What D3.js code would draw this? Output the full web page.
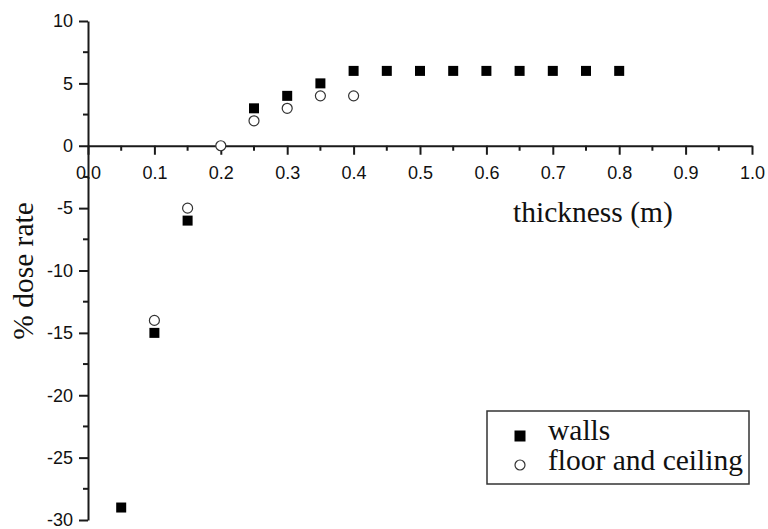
<!DOCTYPE html>
<html>
<head>
<meta charset="utf-8">
<script src="https://cdn.jsdelivr.net/npm/d3@7"></script>
<style>
  html, body { margin: 0; padding: 0; background: #fff; }
  svg { display: block; }
</style>
</head>
<body>
<svg id="chart" width="768" height="529"></svg>
<script>
// Thickness (m) and % dose rate change for each shielding surface
const wallsThickness = [0.05, 0.10, 0.15, 0.25, 0.30, 0.35, 0.40, 0.45, 0.50, 0.55, 0.60, 0.65, 0.70, 0.75, 0.80];
const wallsDose      = [-29, -15, -6, 3, 4, 5, 6, 6, 6, 6, 6, 6, 6, 6, 6];
const floorThickness = [0.10, 0.15, 0.20, 0.25, 0.30, 0.35, 0.40];
const floorDose      = [-14, -5, 0, 2, 3, 4, 4];

const xTicks = [0.0, 0.1, 0.2, 0.3, 0.4, 0.5, 0.6, 0.7, 0.8, 0.9, 1.0];
const xMinorTicks = [0.05, 0.15, 0.25, 0.35, 0.45, 0.55, 0.65, 0.75, 0.85, 0.95];
const yTicks = [-30, -25, -20, -15, -10, -5, 0, 5, 10];
const yMinorTicks = [-27.5, -22.5, -17.5, -12.5, -7.5, -2.5, 2.5, 7.5];

const seriesNames = ["walls", "floor and ceiling"];

const svg = d3.select("#chart");
const x = d3.scaleLinear().domain([0, 1]).range([88, 752]);
const y = d3.scaleLinear().domain([-30, 10]).range([520, 21]);

const axisColor = "#1a1a1a";
const sansFont = "Arial, 'Liberation Sans', sans-serif";
const serifFont = "'Times New Roman', 'Liberation Serif', serif";

// Horizontal axis running through y = 0
const gx = svg.append("g").attr("transform", `translate(0,${y(0)})`);
gx.call(d3.axisBottom(x).tickValues(xTicks).tickSize(9).tickSizeOuter(0)
  .tickFormat(d3.format(".1f")).tickPadding(11));
gx.selectAll(".tick line").attr("stroke", axisColor).attr("stroke-width", 2);
gx.select(".domain").attr("stroke", axisColor).attr("stroke-width", 2);
gx.selectAll(".tick text").attr("font-family", sansFont).attr("font-size", 18).attr("fill", "#111");
gx.selectAll(".minor").data(xMinorTicks).enter().append("line")
  .attr("class", "minor")
  .attr("x1", d => x(d)).attr("x2", d => x(d))
  .attr("y1", 0).attr("y2", 5)
  .attr("stroke", axisColor).attr("stroke-width", 2);

// Vertical axis at x = 0 (plain hyphen for negative labels)
const gy = svg.append("g").attr("transform", `translate(${x(0)},0)`);
gy.call(d3.axisLeft(y).tickValues(yTicks).tickSize(9).tickSizeOuter(0).tickPadding(6)
  .tickFormat(d => String(d)));
gy.selectAll(".tick line").attr("stroke", axisColor).attr("stroke-width", 2);
gy.select(".domain").attr("stroke", axisColor).attr("stroke-width", 2);
gy.selectAll(".tick text").attr("font-family", sansFont).attr("font-size", 18).attr("fill", "#111");
gy.selectAll(".minor").data(yMinorTicks).enter().append("line")
  .attr("class", "minor")
  .attr("x1", 0).attr("x2", -5)
  .attr("y1", d => y(d)).attr("y2", d => y(d))
  .attr("stroke", axisColor).attr("stroke-width", 2);

// Axis titles
svg.append("text")
  .attr("x", 513).attr("y", 222)
  .attr("font-family", serifFont).attr("font-size", 29.5).attr("fill", "#111")
  .text("thickness (m)");

svg.append("text")
  .attr("transform", `translate(33,271) rotate(-90)`)
  .attr("text-anchor", "middle")
  .attr("font-family", serifFont).attr("font-size", 29.5).attr("fill", "#111")
  .text("% dose rate");

// Data markers
const sq = 10;
svg.append("g").selectAll("rect")
  .data(d3.zip(wallsThickness, wallsDose)).enter().append("rect")
  .attr("x", d => x(d[0]) - sq / 2).attr("y", d => y(d[1]) - sq / 2)
  .attr("width", sq).attr("height", sq)
  .attr("fill", "#000");

svg.append("g").selectAll("circle")
  .data(d3.zip(floorThickness, floorDose)).enter().append("circle")
  .attr("cx", d => x(d[0])).attr("cy", d => y(d[1]))
  .attr("r", 5)
  .attr("fill", "#fff").attr("stroke", "#333").attr("stroke-width", 1.2);

// Legend
const legend = svg.append("g");
legend.append("rect")
  .attr("x", 487).attr("y", 411).attr("width", 262).attr("height", 73)
  .attr("fill", "#fff").attr("stroke", "#333").attr("stroke-width", 1.5);
legend.append("rect")
  .attr("x", 520 - 5.5).attr("y", 436 - 5.5).attr("width", 11).attr("height", 11)
  .attr("fill", "#000");
legend.append("circle")
  .attr("cx", 520).attr("cy", 465).attr("r", 5)
  .attr("fill", "#fff").attr("stroke", "#333").attr("stroke-width", 1.2);
legend.selectAll("text.label").data(seriesNames).enter().append("text")
  .attr("class", "label")
  .attr("x", 548).attr("y", (d, i) => 440 + i * 30)
  .attr("font-family", serifFont).attr("font-size", 29.5).attr("fill", "#111")
  .text(d => d);
</script>
</body>
</html>
